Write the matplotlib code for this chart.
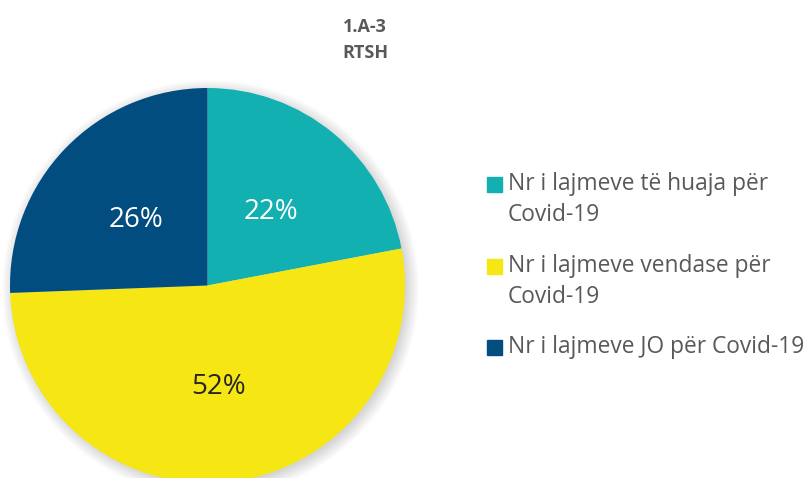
import matplotlib.pyplot as plt
from matplotlib.patches import Circle, Rectangle

# te dhenat
labels = [["Nr i lajmeve të huaja për", "Covid-19"],
          ["Nr i lajmeve vendase për", "Covid-19"],
          ["Nr i lajmeve JO për Covid-19"]]
values = [22.0, 52.4, 25.6]
colors = ["#13B0B1", "#F5E614", "#014D80"]
pct_colors = ["white", "#262626", "white"]
title = ["1.A-3", "RTSH"]

W, H = 809, 478
fig = plt.figure(figsize=(W / 100, H / 100), dpi=100)
ax = fig.add_axes([0, 0, 1, 1])

cx, cy, r = 207.5, H - 285.5, 197.5

# hije e bute
for i in range(14):
    ax.add_patch(Circle((cx + 3, cy - 3), r + 11 - i, color="#000000",
                        alpha=0.011, lw=0, zorder=0))

wedges, texts, autotexts = ax.pie(values, colors=colors, startangle=90,
                                  counterclock=False, center=(cx, cy), radius=r,
                                  autopct="%.0f%%", pctdistance=0.5,
                                  wedgeprops=dict(linewidth=0),
                                  textprops=dict(fontsize=20, family="Open Sans"))
for t, c in zip(autotexts, pct_colors):
    t.set_color(c)
    x, y = t.get_position()
    t.set_position((x, y - 3))

ax.set_xlim(0, W)
ax.set_ylim(0, H)
ax.axis("off")

for line, y in zip(title, [27, 53]):
    fig.text(365 / W, 1 - y / H, line, ha="center", va="center", fontsize=13,
             fontweight="bold", color="#595959", family="Open Sans")

# legjenda
ys = [184, 266, 347]
for lab, col, y in zip(labels, colors, ys):
    fig.patches.append(Rectangle((487 / W, 1 - (y + 7.5) / H), 15 / W, 15 / H,
                                 transform=fig.transFigure, color=col))
    for k, line in enumerate(lab):
        fig.text(508 / W, 1 - (y + 31 * k) / H, line, ha="left", va="center",
                 fontsize=16.4, color="#595959", family="Open Sans")

fig.savefig("out.png", dpi=100)
